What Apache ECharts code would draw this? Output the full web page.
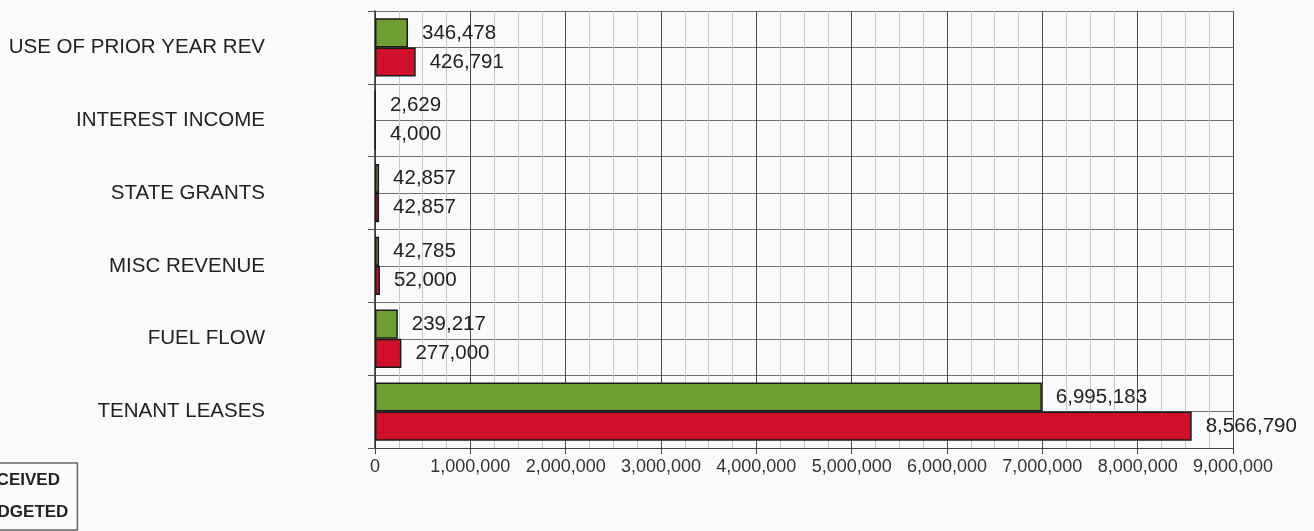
<!DOCTYPE html>
<html>
<head>
<meta charset="utf-8">
<script src="https://cdn.jsdelivr.net/npm/echarts@6/dist/echarts.min.js"></script>
<style>
html,body{margin:0;padding:0;background:#fafafc;}
#chart{width:1314px;height:531px;}
</style>
</head>
<body>
<div id="chart"></div>
<script>
const categories = ['USE OF PRIOR YEAR REV','INTEREST INCOME','STATE GRANTS','MISC REVENUE','FUEL FLOW','TENANT LEASES'];
const received = [346478, 2629, 42857, 42785, 239217, 6995183];
const budgeted = [426791, 4000, 42857, 52000, 277000, 8566790];
const seriesNames = ['RECEIVED','BUDGETED'];
const xTicks = [0,1000000,2000000,3000000,4000000,5000000,6000000,7000000,8000000,9000000];

const fmt = v => v.toLocaleString('en-US');
const halfCats = [];
categories.forEach((c,i)=>{halfCats.push(c+'_a');halfCats.push(c+'_b');});

const FONT = 'Liberation Sans, Arial, sans-serif';
const chart = echarts.init(document.getElementById('chart'), null, {renderer:'canvas'});
const labelStyle = {show:true, position:'right', distance:14, color:'#222', fontFamily:FONT, fontSize:20.5, formatter:p=>fmt(p.value)};
chart.setOption({
  backgroundColor:'#fafafc',
  animation:false,
  legend:{
    orient:'vertical', left:-63, top:463,
    data:seriesNames,
    itemWidth:25, itemHeight:14, itemGap:15,
    padding:[9,9,9,5],
    borderColor:'#666', borderWidth:1.5,
    textStyle:{fontFamily:FONT, fontSize:17, fontWeight:'bold', color:'#222'}
  },
  grid:{left:375, right:81, top:11, bottom:83, containLabel:false},
  xAxis:{
    type:'value', min:xTicks[0], max:xTicks[xTicks.length-1], interval:1000000,
    axisLine:{show:true, lineStyle:{color:'#444', width:1}},
    axisTick:{show:true, length:6, lineStyle:{color:'#444'}},
    axisLabel:{color:'#333', fontFamily:FONT, fontSize:18, margin:10, formatter:v=>fmt(v)},
    splitLine:{show:true, lineStyle:{color:'#4a4a4a', width:1}},
    minorTick:{show:false, splitNumber:4},
    minorSplitLine:{show:true, lineStyle:{color:'#c8c8cc', width:1}}
  },
  yAxis:[{
    type:'category', data:categories, inverse:true,
    axisLine:{show:true, lineStyle:{color:'#333', width:1.5}},
    axisTick:{show:true, length:7, alignWithLabel:false, lineStyle:{color:'#555'}},
    axisLabel:{color:'#222', fontFamily:FONT, fontSize:20.5, margin:110},
    splitLine:{show:false}
  },{
    type:'category', data:halfCats, inverse:true, position:'left',
    axisLine:{show:false}, axisTick:{show:false}, axisLabel:{show:false},
    splitLine:{show:true, lineStyle:{color:'#707074', width:1.2}}
  }],
  series:[{
    name:seriesNames[0], type:'bar', yAxisIndex:0, data:received,
    barGap:'0%', barCategoryGap:'20%',
    itemStyle:{color:'#6f9f33', borderColor:'#1a1a1a', borderWidth:1.5},
    label:labelStyle
  },{
    name:seriesNames[1], type:'bar', yAxisIndex:0, data:budgeted,
    barGap:'0%', barCategoryGap:'20%',
    itemStyle:{color:'#d0102a', borderColor:'#1a1a1a', borderWidth:1.5},
    label:labelStyle
  }]
});
</script>
</body>
</html>
